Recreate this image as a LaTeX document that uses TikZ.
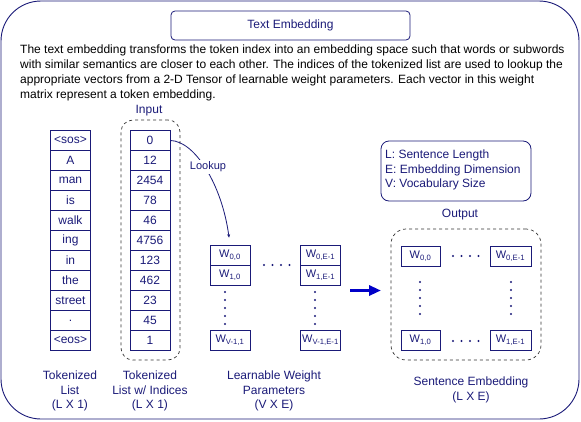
\documentclass[tikz,border=0pt]{standalone}
\usepackage{fontspec}
\setmainfont{Liberation Sans}
\usetikzlibrary{arrows.meta}
\definecolor{navy}{RGB}{26,26,120}
\definecolor{bluearrow}{RGB}{0,0,200}
\begin{document}
\begin{tikzpicture}[x=1pt,y=-1pt,
  txt/.style={font=\fontsize{12}{14}\selectfont, text=navy, inner sep=0pt},
  cell/.style={draw=navy, line width=0.8pt, minimum width=39.5pt, minimum height=20pt, inner sep=0pt, font=\fontsize{12}{14}\selectfont, text=navy},
  wcell/.style={draw=navy, line width=0.8pt, minimum width=40pt, minimum height=20pt, inner sep=0pt, font=\fontsize{11}{13}\selectfont, text=navy},
  dashbox/.style={draw=black!80, dashed, line width=0.7pt, rounded corners=12pt},
  dotmark/.style={fill=navy, draw=none},
  lbl/.style={font=\fontsize{12}{14.5}\selectfont, text=navy, align=center, inner sep=0pt}
]
\useasboundingbox (0,0) rectangle (581,421);
% outer frame
\draw[navy, line width=0.9pt, rounded corners=40pt] (1,1) rectangle (579,419);
% title
\node[draw=navy, line width=0.8pt, rounded corners=4pt, minimum width=239pt, minimum height=29pt, txt] (title) at (290.5,25.5) {Text Embedding};
% description
\node[anchor=north west, inner sep=0pt, align=left, font=\fontsize{12}{15}\selectfont, text=black] (desc) at (20,45)
{The text embedding transforms the token index into an embedding space such that words or subwords\\
with similar semantics are closer to each other. The indices of the tokenized list are used to lookup the\\
appropriate vectors from a 2-D Tensor of learnable weight parameters. Each vector in this weight\\
matrix represent a token embedding.};
% input
\node[txt] (inputlbl) at (149,111) {Input};
\node[dashbox, minimum width=59pt, minimum height=240pt] (inbox) at (150.5,240) {};
% token columns
\foreach \w [count=\i] in {<sos>,A,man,is,walk,ing,in,the,street,.,<eos>}
  \node[cell] (t\i) at (70.5,{140.5+20*(\i-1)}) {\w};
\foreach \w [count=\i] in {0,12,2454,78,46,4756,123,462,23,45,1}
  \node[cell, minimum width=40pt] (n\i) at (150,{140.5+20*(\i-1)}) {\w};
\node[lbl] (tl) at (70,391) {Tokenized\\List\\(L X 1)};
\node[lbl] (til) at (150,391) {Tokenized\\List w/ Indices\\(L X 1)};
% weight matrix
\node[wcell] (w00) at (230,255) {W\textsubscript{0,0}};
\node[wcell] (w10) at (230,275) {W\textsubscript{1,0}};
\node[wcell] (wv1) at (230,340) {W\textsubscript{V-1,1}};
\node[wcell] (w0e) at (320.5,255) {W\textsubscript{0,E-1}};
\node[wcell] (w1e) at (320.5,275) {W\textsubscript{1,E-1}};
\node[wcell] (wve) at (320.5,340) {W\textsubscript{V-1,E-1}};
\foreach \k in {0,...,4} {
  \fill[dotmark] (225,{292+8*\k}) circle (1.1pt);
  \fill[dotmark] (315,{292+8*\k}) circle (1.1pt);
}
\foreach \k in {0,...,3} \fill[dotmark] ({264+8.5*\k},265) circle (1.1pt);
\node[lbl] (wl) at (274,391) {Learnable Weight\\Parameters\\(V X E)};
% lookup arrow
\draw[navy, line width=0.8pt, -{Stealth[length=3.5pt,width=3pt]}, shorten >=7pt]
  (n1.east) .. controls (195,141) and (222,185) .. (w00.north);
\node[fill=white, txt, inner sep=1.5pt, font=\fontsize{11}{13}\selectfont] (lk) at (208,167) {Lookup};
% big arrow
\coordinate (ba1) at (350,290.5);
\coordinate (ba2) at (381,290.5);
\draw[bluearrow, line width=3.2pt, -{Triangle[length=12pt,width=10pt]}] (ba1) -- (ba2);
% legend
\node[draw=navy, line width=0.8pt, rounded corners=8pt, minimum width=150pt, minimum height=60pt] (legend) at (456,171) {};
\node[anchor=west, align=left, font=\fontsize{12}{14.5}\selectfont, text=navy, inner sep=0pt] (legtxt) at (385,170)
{L: Sentence Length\\E: Embedding Dimension\\V: Vocabulary Size};
% output
\node[txt] (outlbl) at (460,215) {Output};
\node[dashbox, minimum width=150pt, minimum height=131pt, rounded corners=15pt] (outbox) at (466,294.5) {};
\node[wcell, minimum width=39pt] (o00) at (420.5,256) {W\textsubscript{0,0}};
\node[wcell, minimum width=41pt] (o0e) at (510.5,256) {W\textsubscript{0,E-1}};
\node[wcell, minimum width=39pt] (o10) at (420.5,340) {W\textsubscript{1,0}};
\node[wcell, minimum width=41pt] (o1e) at (510.5,340) {W\textsubscript{1,E-1}};
\foreach \k in {0,...,4} {
  \fill[dotmark] (420,{282+8*\k}) circle (1.1pt);
  \fill[dotmark] (511,{282+8*\k}) circle (1.1pt);
}
\foreach \k in {0,...,3} {
  \fill[dotmark] ({453+8.5*\k},256) circle (1.1pt);
  \fill[dotmark] ({453+8.5*\k},341) circle (1.1pt);
}
\node[lbl] (sel) at (471,390) {Sentence Embedding\\(L X E)};
\end{tikzpicture}
\end{document}
